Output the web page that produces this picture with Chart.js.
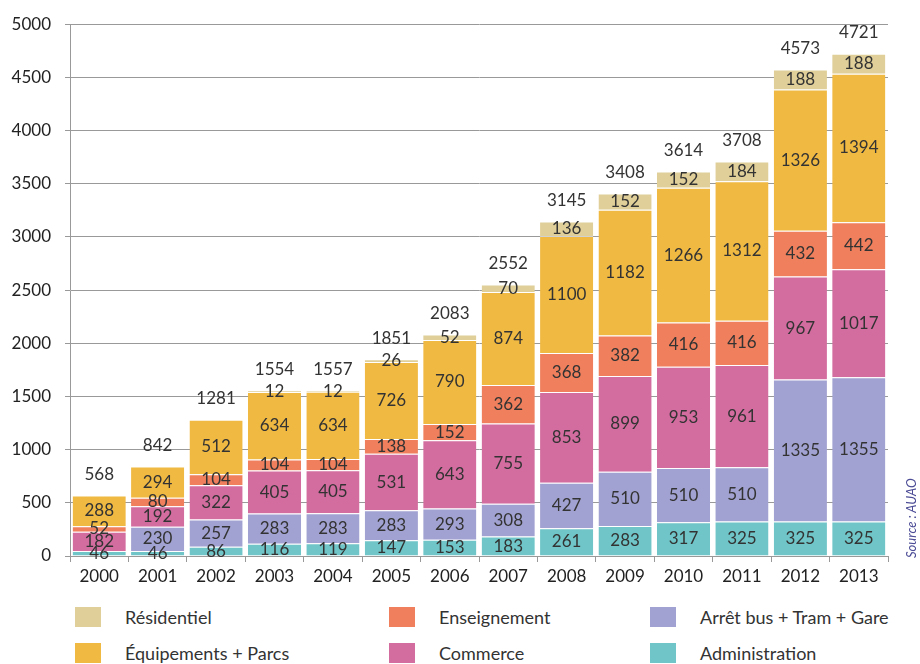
<!DOCTYPE html>
<html>
<head>
<meta charset="utf-8">
<script src="https://cdn.jsdelivr.net/npm/chart.js@4"></script>
<style>
  body { margin: 0; background: #fff; font-family: Lato, sans-serif; }
  #wrap { position: relative; width: 920px; height: 664px; }
  #chart-box { position: absolute; left: 0; top: 0; width: 920px; height: 600px; }
  .legend-item { position: absolute; display: flex; align-items: center; font-size: 18px; color: #333; }
  .legend-item span.sw { width: 26px; height: 20px; margin-right: 24px; display: inline-block; }
  #source { position: absolute; left: 903px; top: 558px; transform-origin: 0 0; transform: rotate(-90deg);
            font-size: 13px; font-style: italic; color: #4b4b96; white-space: nowrap; }
</style>
</head>
<body>
<div id="wrap">
  <div id="chart-box"><canvas id="c"></canvas></div>
  <div id="legend"></div>
  <div id="source">Source : AUAO</div>
</div>
<script>
const years = ['2000', '2001', '2002', '2003', '2004', '2005', '2006', '2007', '2008', '2009', '2010', '2011', '2012', '2013'];

// empilement du bas vers le haut
const administration = [46, 46, 86, 116, 119, 147, 153, 183, 261, 283, 317, 325, 325, 325];
const arretBus = [null, 230, 257, 283, 283, 283, 293, 308, 427, 510, 510, 510, 1335, 1355];
const commerce = [182, 192, 322, 405, 405, 531, 643, 755, 853, 899, 953, 961, 967, 1017];
const enseignement = [52, 80, 104, 104, 104, 138, 152, 362, 368, 382, 416, 416, 432, 442];
const equipements = [288, 294, 512, 634, 634, 726, 790, 874, 1100, 1182, 1266, 1312, 1326, 1394];
const residentiel = [null, null, null, 12, 12, 26, 52, 70, 136, 152, 152, 184, 188, 188];
const totals = [568, 842, 1281, 1554, 1557, 1851, 2083, 2552, 3145, 3408, 3614, 3708, 4573, 4721];

const series = [
  { label: 'Administration', data: administration, color: '#6fc5c7' },
  { label: 'Arrêt bus + Tram + Gare', data: arretBus, color: '#a2a2d2' },
  { label: 'Commerce', data: commerce, color: '#d36c9f' },
  { label: 'Enseignement', data: enseignement, color: '#ef7f5d' },
  { label: 'Équipements + Parcs', data: equipements, color: '#f0b942' },
  { label: 'Résidentiel', data: residentiel, color: '#e0cf98' },
];

const FONT = 'Lato, sans-serif';

// valeurs au centre des segments + totaux au-dessus
const labelsPlugin = {
  id: 'barLabels',
  afterDatasetsDraw(chart) {
    const ctx = chart.ctx;
    ctx.save();
    ctx.font = '17px ' + FONT;
    ctx.fillStyle = '#333';
    ctx.textAlign = 'center';
    ctx.textBaseline = 'middle';
    chart.data.datasets.forEach((ds, i) => {
      chart.getDatasetMeta(i).data.forEach((bar, j) => {
        const v = ds.data[j];
        if (v == null) return;
        ctx.fillText(String(v), bar.x, (bar.y + bar.base) / 2);
      });
    });
    const yScale = chart.scales.y;
    const xScale = chart.scales.x;
    totals.forEach((t, j) => {
      ctx.fillText(String(t), xScale.getPixelForValue(j), yScale.getPixelForValue(t) - 21);
    });
    ctx.restore();
  }
};

new Chart(document.getElementById('c'), {
  type: 'bar',
  data: {
    labels: years,
    datasets: series.map((s) => ({
      label: s.label,
      data: s.data,
      backgroundColor: s.color,
      borderColor: 'rgba(255,255,255,0.55)',
      borderWidth: { top: 1, bottom: 0, left: 0, right: 0 },
      borderSkipped: false,
      barPercentage: 0.91,
      categoryPercentage: 1,
    })),
  },
  options: {
    responsive: true,
    maintainAspectRatio: false,
    animation: false,
    layout: { padding: { top: 19, right: 32, left: 0, bottom: 0 } },
    plugins: { legend: { display: false }, tooltip: { enabled: false } },
    scales: {
      x: {
        stacked: true,
        grid: { display: true, drawOnChartArea: false, offset: true, tickLength: 6, color: '#999' },
        border: { color: '#999' },
        ticks: { font: { family: FONT, size: 17 }, color: '#222', padding: 4 },
        afterFit(scale) { scale.height = 44; },
      },
      y: {
        stacked: true,
        min: 0,
        max: 5000,
        grid: { color: '#999', tickLength: 5 },
        border: { color: '#999' },
        ticks: {
          stepSize: 500,
          font: { family: FONT, size: 17 },
          color: '#222',
          padding: 14,
          callback: (v) => String(v),
        },
        afterFit(scale) { scale.width = 70; },
      },
    },
  },
  plugins: [labelsPlugin],
});

// légende en 3 colonnes
const legendItems = [
  { s: series[5], x: 75, y: 617 },
  { s: series[3], x: 389, y: 617 },
  { s: series[1], x: 650, y: 617 },
  { s: series[4], x: 75, y: 653 },
  { s: series[2], x: 389, y: 653 },
  { s: series[0], x: 650, y: 653 },
];
document.getElementById('legend').innerHTML = legendItems.map((it) =>
  `<div class="legend-item" style="left:${it.x}px;top:${it.y - 11}px;height:22px">
     <span class="sw" style="background:${it.s.color}"></span>${it.s.label}
   </div>`).join('');
</script>
</body>
</html>
